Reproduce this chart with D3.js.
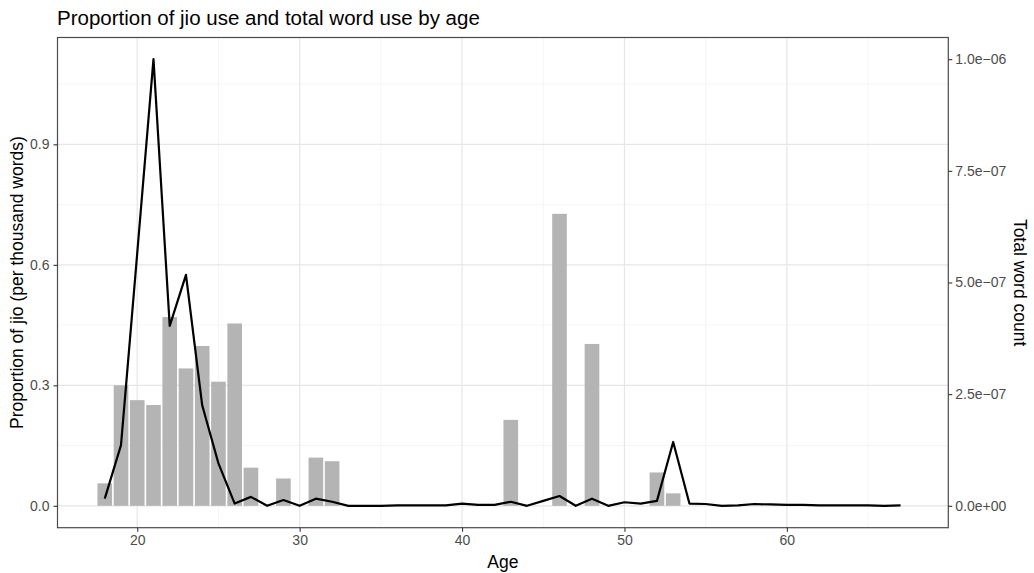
<!DOCTYPE html>
<html>
<head>
<meta charset="utf-8">
<script src="https://cdn.jsdelivr.net/npm/d3@7"></script>
<style>
  body { margin: 0; background: #fff; }
  text { font-family: "Liberation Sans", Arial, Helvetica, sans-serif; }
</style>
</head>
<body>
<div id="chart"></div>
<script>
// bars: proportion of jio (per thousand words) by age
const barAges = [18, 19, 20, 21, 22, 23, 24, 25, 26, 27, 29, 31, 32, 43, 46, 48, 52, 53];
const jioProportion = [0.056, 0.300, 0.263, 0.251, 0.470, 0.342, 0.398, 0.309, 0.454,
  0.095, 0.068, 0.120, 0.111, 0.214, 0.727, 0.403, 0.083, 0.031];

// line: total word count (right axis units)
const lineAges = [18, 19, 20, 21, 22, 23, 24, 25, 26, 27, 28, 29, 30, 31, 32, 33, 34, 35, 36, 37,
  38, 39, 40, 41, 42, 43, 44, 45, 46, 47, 48, 49, 50, 51, 52, 53, 54, 55, 56, 57,
  58, 59, 60, 61, 62, 63, 64, 65, 66, 67];
const wordCount = [0.016e-6, 0.136e-6, 0.566e-6, 1.0e-6, 0.403e-6, 0.517e-6, 0.225e-6, 0.095e-6, 0.005e-6, 0.020e-6,
  0, 0.013e-6, 0, 0.016e-6, 0.009e-6, 0, 0, 0, 0.001e-6, 0.001e-6,
  0.001e-6, 0.001e-6, 0.005e-6, 0.002e-6, 0.002e-6, 0.009e-6, 0, 0.011e-6, 0.022e-6, 0,
  0.016e-6, 0, 0.008e-6, 0.005e-6, 0.011e-6, 0.143e-6, 0.005e-6, 0.004e-6, 0, 0.001e-6,
  0.004e-6, 0.003e-6, 0.002e-6, 0.002e-6, 0.001e-6, 0.001e-6, 0.001e-6, 0.001e-6, 0, 0.001e-6];

const xTicks = [20, 30, 40, 50, 60];
const xMinor = [25, 35, 45, 55, 65];
const yTicks = [0, 0.3, 0.6, 0.9];
const yMinor = [0.15, 0.45, 0.75, 1.05];
const rightTicks = [0, 2.5e-7, 5.0e-7, 7.5e-7, 1.0e-6];
const rightTickLabels = ["0.0e+00", "2.5e\u221207", "5.0e\u221207", "7.5e\u221207", "1.0e\u221206"];

const margin = { top: 37.5, right: 1034 - 948.3, bottom: 573 - 527.7, left: 57.5 },
  width = 1034 - margin.left - margin.right,
  height = 573 - margin.top - margin.bottom;

const x = d3.scaleLinear().domain([15.09, 69.94]).range([0, width]);
const y = d3.scaleLinear().domain([-0.0545, 1.166]).range([height, 0]);
// secondary axis: 1e-6 words maps onto 1.112 on the left scale
const yRight = d3.scaleLinear().domain([-0.0545 / 1.112e6, 1.166 / 1.112e6]).range([height, 0]);

const svgRoot = d3.select('#chart').append('svg')
  .attr('width', 1034)
  .attr('height', 573);

svgRoot.append('text')
  .attr('x', 57)
  .attr('y', 25)
  .attr('font-size', 20.5)
  .attr('fill', '#000')
  .text('Proportion of jio use and total word use by age');

const svg = svgRoot.append('g')
  .attr('transform', 'translate(' + margin.left + ',' + margin.top + ')');

// grid lines
svg.append('g').selectAll('line')
  .data(xMinor.filter(d => x(d) < width))
  .enter().append('line')
  .attr('x1', d => x(d)).attr('x2', d => x(d))
  .attr('y1', 0).attr('y2', height)
  .attr('stroke', '#f2f2f2').attr('stroke-width', 0.8);
svg.append('g').selectAll('line')
  .data(yMinor)
  .enter().append('line')
  .attr('x1', 0).attr('x2', width)
  .attr('y1', d => y(d)).attr('y2', d => y(d))
  .attr('stroke', '#f2f2f2').attr('stroke-width', 0.8);
svg.append('g').selectAll('line')
  .data(xTicks)
  .enter().append('line')
  .attr('x1', d => x(d)).attr('x2', d => x(d))
  .attr('y1', 0).attr('y2', height)
  .attr('stroke', '#e6e6e6').attr('stroke-width', 1.2);
svg.append('g').selectAll('line')
  .data(yTicks)
  .enter().append('line')
  .attr('x1', 0).attr('x2', width)
  .attr('y1', d => y(d)).attr('y2', d => y(d))
  .attr('stroke', '#e6e6e6').attr('stroke-width', 1.2);

// bars
svg.append('g').selectAll('rect')
  .data(barAges)
  .enter().append('rect')
  .attr('x', d => x(d - 0.45))
  .attr('width', x(0.9) - x(0))
  .attr('y', (d, i) => y(jioProportion[i]))
  .attr('height', (d, i) => y(0) - y(jioProportion[i]))
  .attr('fill', '#b4b4b4');

// line
const line = d3.line()
  .x(d => x(d[0]))
  .y(d => yRight(d[1]));
svg.append('path')
  .datum(lineAges.map((a, i) => [a, wordCount[i]]))
  .attr('d', line)
  .attr('fill', 'none')
  .attr('stroke', '#000')
  .attr('stroke-width', 2.2)
  .attr('stroke-linejoin', 'round');

// panel border
svg.append('rect')
  .attr('width', width).attr('height', height)
  .attr('fill', 'none').attr('stroke', '#4a4a4a').attr('stroke-width', 1.2);

// axes
const styleAxis = g => {
  g.select('.domain').remove();
  g.selectAll('.tick line').attr('stroke', '#333').attr('stroke-width', 1.1);
  g.selectAll('.tick text').attr('fill', '#4d4d4d').attr('font-size', 14)
    .attr('font-family', '"Liberation Sans", Arial, sans-serif');
};

svg.append('g')
  .attr('transform', 'translate(0,' + height + ')')
  .call(d3.axisBottom(x).tickValues(xTicks).tickSize(4).tickPadding(3))
  .call(styleAxis);

svg.append('g')
  .call(d3.axisLeft(y).tickValues(yTicks).tickFormat(d3.format('.1f')).tickSize(4).tickPadding(4))
  .call(styleAxis);

svg.append('g')
  .attr('transform', 'translate(' + width + ',0)')
  .call(d3.axisRight(yRight).tickValues(rightTicks)
    .tickFormat((d, i) => rightTickLabels[i]).tickSize(4).tickPadding(3))
  .call(styleAxis);

// axis titles
svgRoot.append('text')
  .attr('x', margin.left + width / 2)
  .attr('y', 568)
  .attr('text-anchor', 'middle')
  .attr('font-size', 17.5)
  .text('Age');

svgRoot.append('text')
  .attr('transform', 'translate(23,' + (margin.top + height / 2) + ') rotate(-90)')
  .attr('text-anchor', 'middle')
  .attr('font-size', 17.5)
  .text('Proportion of jio (per thousand words)');

svgRoot.append('text')
  .attr('transform', 'translate(1014,' + (margin.top + height / 2) + ') rotate(90)')
  .attr('text-anchor', 'middle')
  .attr('font-size', 17.5)
  .text('Total word count');
</script>
</body>
</html>
